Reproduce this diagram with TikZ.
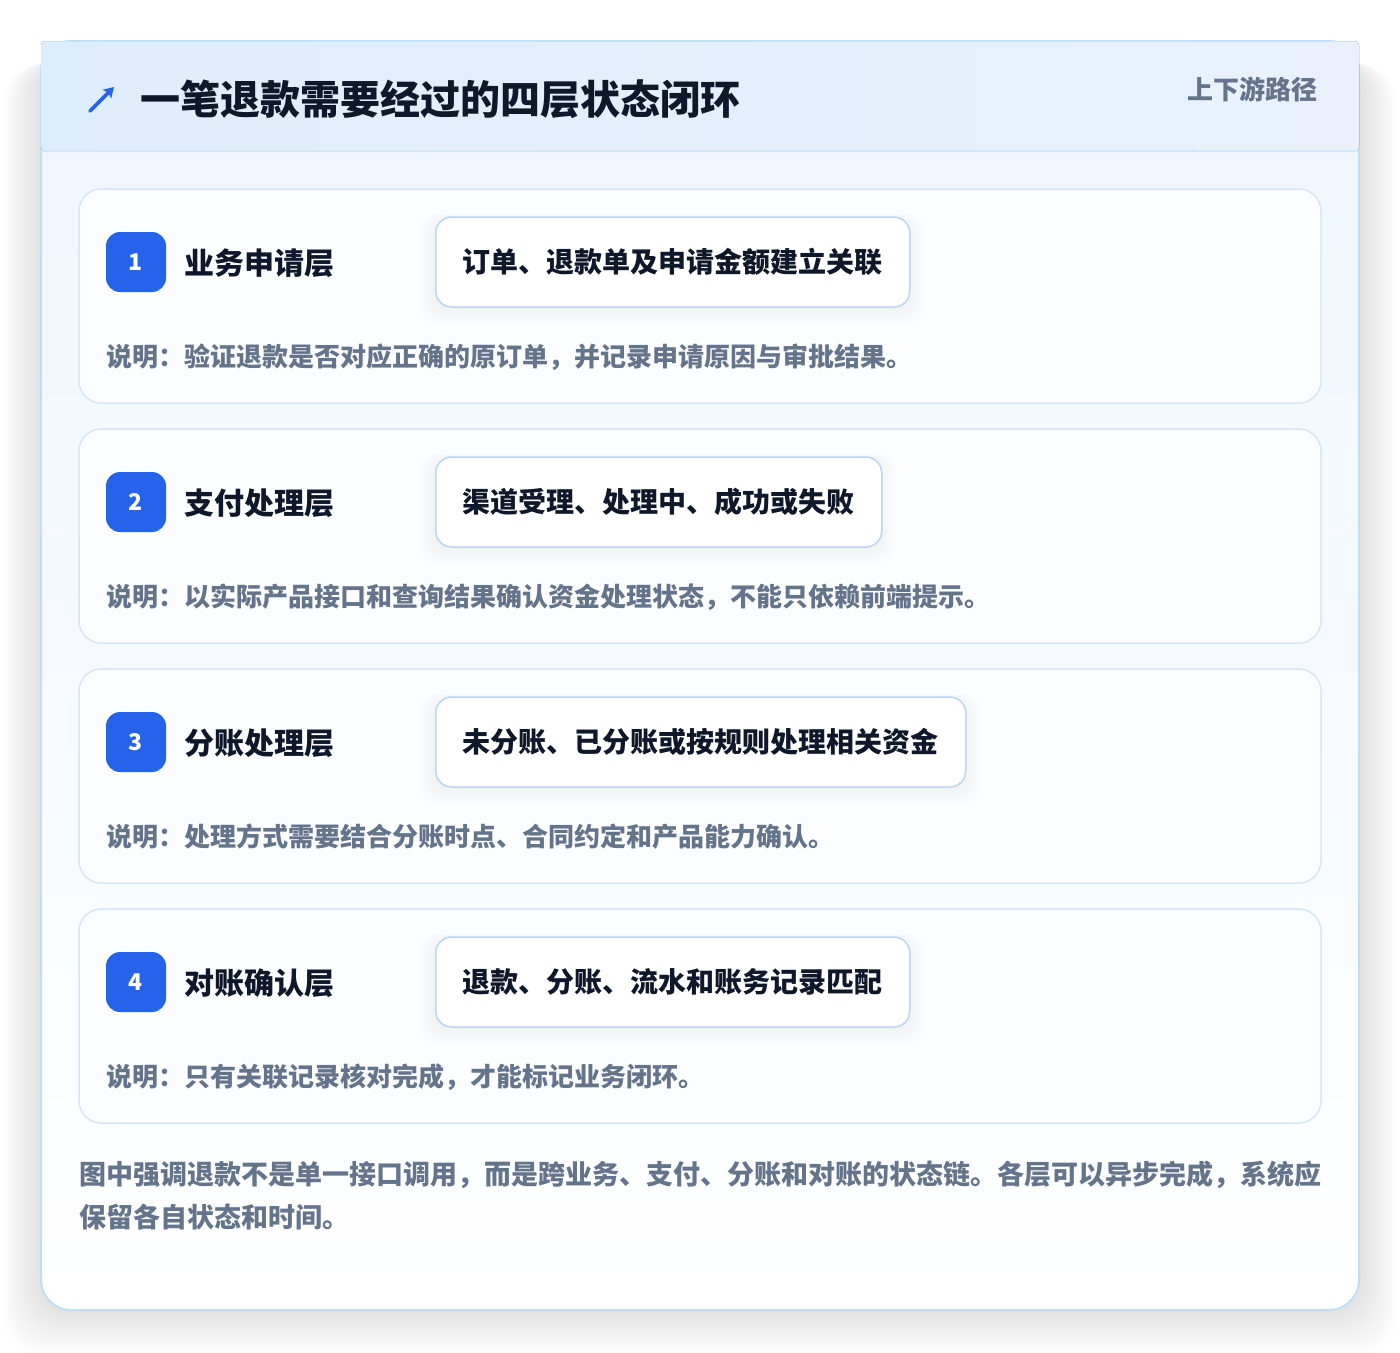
\documentclass[tikz,border=0pt]{standalone}
\usepackage{fontspec}
\setmainfont{Noto Sans CJK SC}
\usetikzlibrary{arrows.meta}
\definecolor{ink}{HTML}{0F172A}
\definecolor{muted}{HTML}{64748B}
\definecolor{accent}{HTML}{2563EB}
\definecolor{cardline}{HTML}{BEDFF5}
\definecolor{headsep}{HTML}{D3E6F8}
\definecolor{layerline}{HTML}{D5E6F6}
\definecolor{pillline}{HTML}{BBD5F2}
\definecolor{headL}{HTML}{DEEDFC}
\definecolor{headR}{HTML}{EAF1FD}
\definecolor{bodyTop}{HTML}{EEF6FE}
\definecolor{layerfill}{HTML}{FCFDFF}
\tikzset{
  fs/.style={font=\fontsize{#1}{#1}\selectfont\bfseries},
  layerbox/.style={draw=layerline, line width=1.5pt, fill=layerfill, rounded corners=22pt},
  badge/.style={fill=accent, text=white, rounded corners=14pt, minimum width=60pt, minimum height=60pt, inner sep=0pt, fs=23},
  layertitle/.style={anchor=west, inner sep=0pt, text=ink, fs=30},
  pill/.style={anchor=west, draw=pillline, line width=1.5pt, fill=white, rounded corners=16pt, minimum height=90pt, inner xsep=27pt, inner ysep=0pt, text=ink, fs=28},
  desc/.style={anchor=west, inner sep=0pt, text=muted, fs=26},
  foot/.style={anchor=west, inner sep=0pt, text=muted, fs=27},
  icon/.style={draw=accent, line width=3.6pt, line cap=round, -{Stealth[length=10pt, width=12pt, inset=2pt]}},
}
\begin{document}
\begin{tikzpicture}[x=1pt,y=-1pt]
\useasboundingbox (0,0) rectangle (1400,1352);
\fill[white] (0,0) rectangle (1400,1352);
% soft shadow of the card
\foreach \i in {1,...,30}{
  \fill[black, opacity=0.0026, rounded corners=40pt] (41-\i*1.3,55+\i*0.3) rectangle (1359+\i*1.3,1310+\i*1.5);
}
% card body
\path[rounded corners=30pt, top color=bodyTop, bottom color=white] (41,41) rectangle (1359,1310);
\draw[cardline, line width=2pt, rounded corners=30pt] (41,41) rectangle (1359,1310);
% header band
\fill[left color=headL, right color=headR, rounded corners=4pt] (41,41) rectangle (1359,151);
\draw[cardline!70!headL, line width=1.5pt] (45,41.5) -- (1355,41.5);
\draw[headsep, line width=1.5pt] (42,151) -- (1358,151);
% header
\coordinate (ia) at (90,111);
\coordinate (ib) at (114,87);
\draw[icon] (ia) -- (ib);
\node[anchor=west, inner sep=0pt, text=ink, fs=40] (title) at (140,99) {一笔退款需要经过的四层状态闭环};
\node[anchor=east, inner sep=0pt, text=muted, fs=26] (route) at (1318,89) {上下游路径};
% layers
\foreach \n/\ttl/\pl/\pr/\ds in {
  1/业务申请层/订单、退款单及申请金额建立关联/909/说明：验证退款是否对应正确的原订单，并记录申请原因与审批结果。,
  2/支付处理层/渠道受理、处理中、成功或失败/881/说明：以实际产品接口和查询结果确认资金处理状态，不能只依赖前端提示。,
  3/分账处理层/未分账、已分账或按规则处理相关资金/965/说明：处理方式需要结合分账时点、合同约定和产品能力确认。,
  4/对账确认层/退款、分账、流水和账务记录匹配/909/说明：只有关联记录核对完成，才能标记业务闭环。}{
  \pgfmathsetmacro{\T}{189+240*(\n-1)}
  \draw[layerbox] (79,\T) rectangle (1321,\T+214);
  \node[badge] (b\n) at (136,\T+73) {\n};
  \node[layertitle] (t\n) at (184,\T+74) {\ttl};
  \foreach \k in {1,...,10}{
    \fill[black, opacity=0.005, rounded corners=18pt] (435-\k*1.6,\T+30-\k*0.6) rectangle (\pr+\k*1.6,\T+118+\k*1.8);
  }
  \node[pill] (p\n) at (435,\T+73) {\pl};
  \node[desc] (d\n) at (106,\T+168) {\ds};
}
% footer
\node[foot] (f1) at (79,1175) {图中强调退款不是单一接口调用，而是跨业务、支付、分账和对账的状态链。各层可以异步完成，系统应};
\node[foot] (f2) at (79,1217) {保留各自状态和时间。};
\end{tikzpicture}
\end{document}
